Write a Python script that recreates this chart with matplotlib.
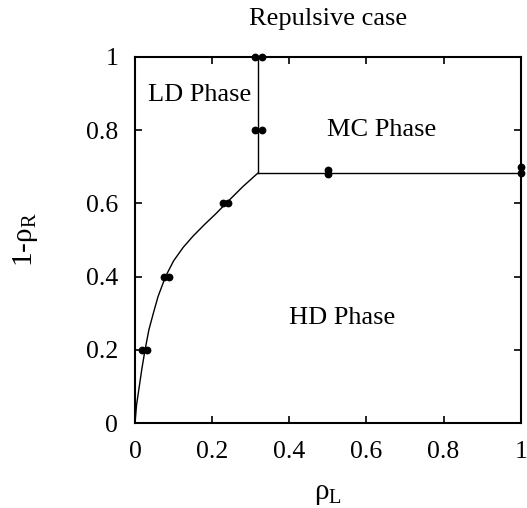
import matplotlib
matplotlib.use("Agg")
import matplotlib.pyplot as plt

plt.rcParams['font.family'] = ['Liberation Serif', 'DejaVu Serif']
plt.rcParams['mathtext.fontset'] = 'custom'
plt.rcParams['mathtext.rm'] = 'Liberation Serif'
plt.rcParams['mathtext.it'] = 'Liberation Serif:italic'

# boundary curve (HD / LD)
curve_x = [0.0, 0.004, 0.011, 0.018, 0.026, 0.036, 0.0475, 0.0595, 0.079, 0.10,
           0.125, 0.15, 0.18, 0.21, 0.236, 0.279, 0.318]
curve_y = [0.0, 0.05, 0.10, 0.15, 0.20, 0.255, 0.30, 0.345, 0.40, 0.443,
           0.48, 0.51, 0.542, 0.572, 0.60, 0.645, 0.682]
# vertical LD/MC boundary
vert_x = [0.318, 0.318]
vert_y = [0.682, 1.0]
# horizontal HD/MC boundary
horiz_x = [0.318, 1.0]
horiz_y = [0.682, 0.682]

# simulation points
pts_x = [0.019, 0.031, 0.075, 0.087, 0.229, 0.241, 0.31, 0.33, 0.31, 0.33, 0.5, 0.5, 1.0, 1.0]
pts_y = [0.2, 0.2, 0.4, 0.4, 0.6, 0.6, 0.8, 0.8, 1.0, 1.0, 0.68, 0.692, 0.682, 0.699]

ticks = [0, 0.2, 0.4, 0.6, 0.8, 1]
tick_labels = ['0', '0.2', '0.4', '0.6', '0.8', '1']

FS = 18.5
TFS = 19

fig = plt.figure(figsize=(5.27, 5.08), dpi=100)
ax = fig.add_axes([135/527, 1-423.3/508, 385.7/527, 366.6/508])

ax.plot(curve_x, curve_y, color='black', lw=1.0)
ax.plot(vert_x, vert_y, color='black', lw=1.0)
ax.plot(horiz_x, horiz_y, color='black', lw=1.0)
ax.plot(pts_x, pts_y, 'o', color='black', ms=4.6, clip_on=False, zorder=5)

ax.set_xlim(0, 1)
ax.set_ylim(0, 1)
ax.set_xticks(ticks)
ax.set_xticklabels(tick_labels)
ax.set_yticks(ticks)
ax.set_yticklabels(tick_labels)
ax.tick_params(direction='in', top=True, right=True, length=5, width=1.2,
               labelsize=FS)
ax.tick_params(axis='x', pad=13)
ax.tick_params(axis='y', pad=12)
for s in ax.spines.values():
    s.set_linewidth(1.5)

ax.text(0.033, 0.895, 'LD Phase', fontsize=TFS, va='center', ha='left')
ax.text(0.498, 0.80, 'MC Phase', fontsize=TFS, va='center', ha='left')
ax.text(0.40, 0.287, 'HD Phase', fontsize=TFS, va='center', ha='left')

ax.set_xlabel('ρ$_{\\mathrm{L}}$', fontsize=21, labelpad=13)
ax.set_ylabel('1-ρ$_{\\mathrm{R}}$', fontsize=21, labelpad=33)
ax.set_title('Repulsive case', fontsize=TFS, pad=23)

fig.savefig('out.png', dpi=100)
